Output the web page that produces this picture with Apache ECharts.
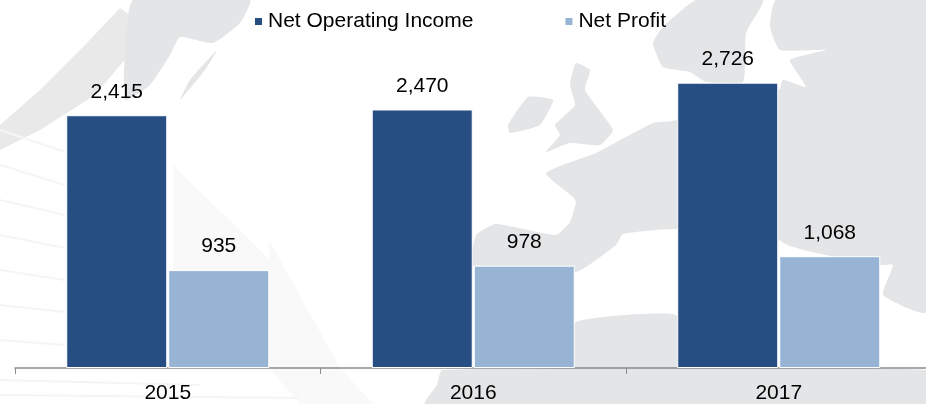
<!DOCTYPE html>
<html>
<head>
<meta charset="utf-8">
<style>
  html, body { margin: 0; padding: 0; background: #fff; }
  #chart { width: 926px; height: 404px; }
</style>
<script src="https://cdn.jsdelivr.net/npm/echarts@6/dist/echarts.min.js"></script>
</head>
<body>
<div id="chart"></div>
<script>
const categories = ['2015', '2016', '2017'];
const netOperatingIncome = [2415, 2470, 2726];
const netProfit = [935, 978, 1068];

// faint world map behind the plot, just decoration
const land = '#e4e5e7';
const landShapes = [
  // top left land mass
  [[133,0],[250,0],[240,23],[213,43],[180,37],[170,55],[150,85],[125,100],[125,50]],
  [[190,80],[217,50],[205,70],[180,100]],
  // ireland, britain
  [[528,97],[553,100],[540,125],[510,133],[508,125]],
  [[576,63],[590,70],[585,90],[613,130],[600,145],[570,143],[546,152],[560,135],[555,125],[575,105],[570,85]],
  // scandinavia
  [[696,0],[763,0],[746,33],[743,82],[706,82],[690,72],[663,67],[653,43],[663,27]],
  // east of the baltic, runs down behind the 2017 bars
  [[776,0],[926,0],[926,312],[883,295],[893,265],[880,265],[780,240],[778,100],[783,80],[806,87],[790,60],[826,50],[780,50],[770,27]],
  // mainland
  [[676,120],[653,123],[596,153],[546,173],[573,197],[576,202],[570,222],[556,235],[496,224],[476,235],[473,266],[576,272],[616,245],[623,234],[676,229],[780,240],[780,90],[700,90]],
  // block under the mainland
  [[576,322],[676,315],[676,368],[576,368]],
  // below the axis
  [[442,370],[926,370],[926,404],[425,404],[437,385]]
];
const streakShapes = [
  // left swoosh
  [[120,8],[150,30],[95,95],[40,130],[0,150],[0,125],[40,90],[85,45]],
  // fan near the first group
  [[269,240],[340,368],[373,404],[300,404],[269,368]],
  [[173,165],[270,260],[270,368],[173,368]]
];
const sweepLines = [
  [[0,130],[65,152]], [[0,165],[65,185]], [[0,200],[65,215]], [[0,235],[65,248]],
  [[0,270],[65,280]], [[0,305],[65,312]], [[0,340],[65,345]], [[0,380],[200,385]],
  [[0,395],[300,398]]
];
const mapGraphics = [];
streakShapes.forEach((points, i) => {
  mapGraphics.push({
    type: 'polygon', silent: true, z: -10,
    shape: { points: points },
    style: { fill: i === 0 ? '#e9e9ea' : '#f9f9f9' }
  });
});
landShapes.forEach((points) => {
  mapGraphics.push({
    type: 'polygon', silent: true, z: -9,
    shape: { points: points, smooth: 0.15 },
    style: { fill: land }
  });
});
sweepLines.forEach((points) => {
  mapGraphics.push({
    type: 'polyline', silent: true, z: -9,
    shape: { points: points },
    style: { stroke: '#f5f5f5', lineWidth: 2, fill: null }
  });
});

const chart = echarts.init(document.getElementById('chart'), null, { renderer: 'canvas' });

chart.setOption({
  animation: false,
  backgroundColor: '#fff',
  textStyle: { fontFamily: 'Liberation Sans, Arial, sans-serif', color: '#000' },
  graphic: mapGraphics,
  legend: {
    top: 6,
    left: 248,
    itemWidth: 9,
    itemHeight: 9,
    itemGap: 90,
    icon: 'rect',
    textStyle: { fontSize: 21, color: '#000' },
    data: ['Net Operating Income', 'Net Profit']
  },
  // axis runs past the right edge of the page
  grid: { left: 15, width: 916.5, top: 54, bottom: 36, outerBoundsMode: 'none' },
  xAxis: {
    type: 'category',
    data: categories,
    axisLine: { lineStyle: { color: '#8c8c8c', width: 1.5 } },
    axisTick: { show: true, length: 6, lineStyle: { color: '#8c8c8c', width: 1 } },
    axisLabel: { fontSize: 21, color: '#000', margin: 15 }
  },
  yAxis: {
    type: 'value',
    min: 0,
    max: 3000,
    show: false
  },
  series: [
    {
      name: 'Net Operating Income',
      type: 'bar',
      barWidth: 101,
      barGap: '1%',
      data: netOperatingIncome,
      itemStyle: { color: '#264e83', borderColor: '#fff', borderWidth: 1 },
      label: {
        show: true,
        position: 'top',
        distance: 13,
        fontSize: 21,
        color: '#000',
        formatter: (p) => p.value.toLocaleString('en-US')
      }
    },
    {
      name: 'Net Profit',
      type: 'bar',
      barWidth: 101,
      data: netProfit,
      itemStyle: { color: '#98b4d4', borderColor: '#fff', borderWidth: 1 },
      label: {
        show: true,
        position: 'top',
        distance: 13,
        fontSize: 21,
        color: '#000',
        formatter: (p) => p.value.toLocaleString('en-US')
      }
    }
  ]
});
</script>
</body>
</html>
